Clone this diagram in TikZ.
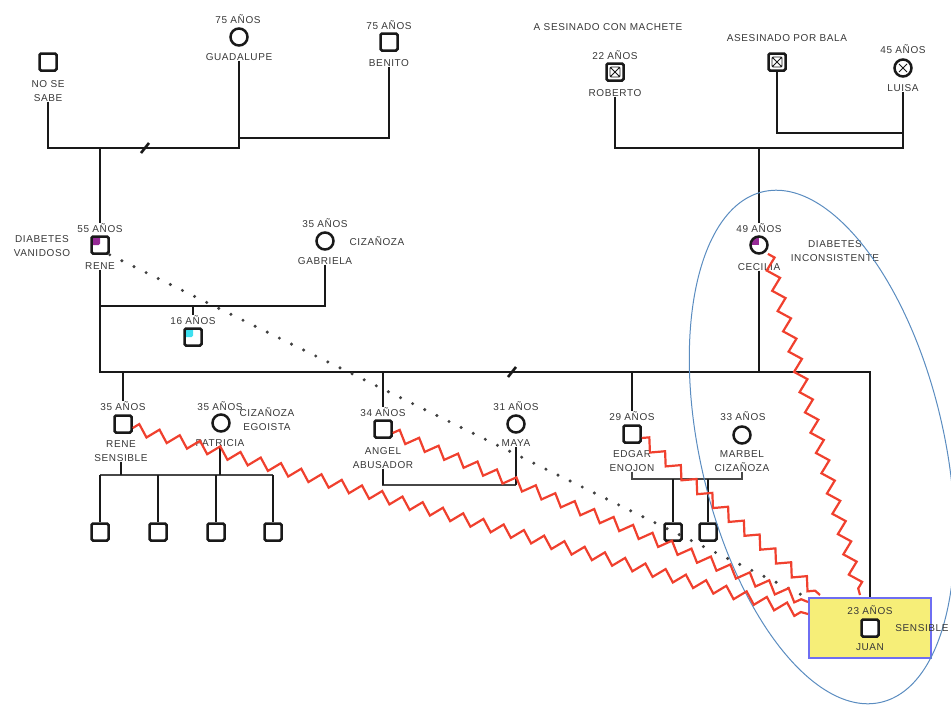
\documentclass[tikz,border=0pt]{standalone}
\usepackage{fontspec}
\setmainfont{Liberation Sans}[LetterSpace=6]
\usetikzlibrary{decorations.pathmorphing,calc}
\definecolor{txt}{HTML}{383838}
\definecolor{zig}{HTML}{F0402E}
\definecolor{purp}{HTML}{962A96}
\definecolor{cyn}{HTML}{3FE0F0}
\definecolor{eblue}{HTML}{5A8CC0}
\definecolor{jyel}{HTML}{F6EE78}
\definecolor{jblue}{HTML}{6E6EF2}
\begin{document}
\begin{tikzpicture}[x=1pt,y=-1pt,
  lbl/.style={font=\fontsize{10}{14}\selectfont, text=txt, inner sep=0pt, align=center},
  psq/.style={draw=black!90, line width=2.5pt, rectangle, rounded corners=1.5pt, minimum size=17pt, inner sep=0pt, fill=white},
  pci/.style={draw=black!90, line width=2.5pt, circle, minimum size=17pt, inner sep=0pt, fill=white},
  qfill/.style={path picture={\fill[#1] (path picture bounding box.north west) rectangle (path picture bounding box.center);}},
  xsq/.style={path picture={
     \draw[line width=0.8pt] ([shift={(3.5pt,-3.5pt)}]path picture bounding box.north west) rectangle ([shift={(-3.5pt,3.5pt)}]path picture bounding box.south east);
     \draw[line width=0.8pt] ([shift={(3.5pt,-3.5pt)}]path picture bounding box.north west) -- ([shift={(-3.5pt,3.5pt)}]path picture bounding box.south east);
     \draw[line width=0.8pt] ([shift={(-3.5pt,-3.5pt)}]path picture bounding box.north east) -- ([shift={(3.5pt,3.5pt)}]path picture bounding box.south west);}},
  xci/.style={path picture={
     \draw[line width=0.8pt] ([shift={(4.5pt,-4.5pt)}]path picture bounding box.north west) -- ([shift={(-4.5pt,4.5pt)}]path picture bounding box.south east);
     \draw[line width=0.8pt] ([shift={(-4.5pt,-4.5pt)}]path picture bounding box.north east) -- ([shift={(4.5pt,4.5pt)}]path picture bounding box.south west);}},
  rel/.style={line width=2.6pt, draw=black!90},
  thinrel/.style={line width=1.7pt, draw=black!72},
  conflict/.style={draw=zig, line width=2.2pt, line join=miter, decorate, decoration={zigzag, segment length=21pt, amplitude=5.5pt}},
  dotline/.style={draw=black!75, line width=3.4pt, line cap=round, dash pattern=on 0pt off 13.5pt},
]
\useasboundingbox (0,0) rectangle (951,707);

% ---------- generation 1 (left)
\node[psq] (nose) at (48,62) {};
\node[lbl] (nosel) at (48,91) {NO SE\\SABE};
\node[lbl] (guaa) at (238,19) {75 AÑOS};
\node[pci] (gua) at (239,37) {};
\node[lbl] (gual) at (239,57) {GUADALUPE};
\node[lbl] (bena) at (389,25) {75 AÑOS};
\node[psq] (ben) at (389,42) {};
\node[lbl] (benl) at (389,63) {BENITO};
\coordinate (j0) at (48,148);
\coordinate (j1) at (239,148);
\coordinate (jb) at (239,138);
\coordinate (jc) at (100,148);
\draw[rel] (nosel.south) -- (j0) -- (j1) -- (gual.south);
\draw[rel] (benl.south) |- (jb);
\draw[rel] (141,153) -- (149,143);

% ---------- generation 1 (right)
\node[lbl] (mach) at (608,27) {A SESINADO CON MACHETE};
\node[lbl] (roba) at (615,55) {22 AÑOS};
\node[psq,xsq] (rob) at (615,72) {};
\node[lbl] (robl) at (615,93) {ROBERTO};
\node[lbl] (asea) at (787,38) {ASESINADO POR BALA};
\node[psq,xsq] (ase) at (777,62) {};
\node[lbl] (luia) at (903,49) {45 AÑOS};
\node[pci,xci] (lui) at (903,68) {};
\node[lbl] (luil) at (903,88) {LUISA};
\coordinate (k1) at (903,148);
\coordinate (kb) at (903,133);
\coordinate (kc) at (759,148);
\draw[rel] (robl.south) |- (k1) -- (luil.south);
\draw[rel] (ase.south) |- (kb);

% ---------- generation 2
\node[lbl] (renea) at (100,228) {55 AÑOS};
\node[psq,qfill=purp] (rene) at (100,245) {};
\node[lbl] (renet) at (42,246) {DIABETES\\VANIDOSO};
\node[lbl] (renel) at (100,266) {RENE};
\draw[rel] (jc) -- (renea.north);

\node[lbl] (gaba) at (325,223) {35 AÑOS};
\node[pci] (gab) at (325,241) {};
\node[lbl] (gabt) at (377,241) {CIZAÑOZA};
\node[lbl] (gabl) at (325,261) {GABRIELA};
\coordinate (g0) at (100,306);
\coordinate (g1) at (193,306);
\draw[rel] (gabl.south) |- (g0);
\node[lbl] (sixa) at (193,320) {16 AÑOS};
\node[psq,qfill=cyn] (six) at (193,337) {};
\draw[rel] (g1) -- (sixa.north);

\node[lbl] (ceca) at (759,228) {49 AÑOS};
\node[pci,qfill=purp] (cec) at (759,245) {};
\node[lbl] (cecl) at (759,267) {CECILIA};
\node[lbl] (cect) at (835,251) {DIABETES\\INCONSISTENTE};
\draw[rel] (kc) -- (ceca.north);

% Juan box (needed for the union line)
\node[draw=jblue, fill=jyel, line width=2.2pt, minimum width=122pt, minimum height=60pt, inner sep=0pt] (juanbox) at (870,628) {};

\coordinate (u0) at (100,372);
\coordinate (u1) at (870,372);
\coordinate (uc) at (759,372);
\draw[rel] (renel.south) -- (u0) -- (u1) -- (juanbox.north);
\draw[rel] (cecl.south) -- (uc);
\draw[rel] (508,377) -- (516,367);

% ---------- generation 3
\node[lbl] (r2a) at (123,406) {35 AÑOS};
\node[psq] (r2) at (123,424) {};
\node[lbl] (r2l) at (121,451) {RENE\\SENSIBLE};
\node[lbl] (pata) at (220,406) {35 AÑOS};
\node[lbl] (patt) at (267,419) {CIZAÑOZA\\EGOISTA};
\node[pci] (pat) at (221,423) {};
\node[lbl] (patl) at (220,443) {PATRICIA};
\draw[rel] (123,372) -- (r2a.north);
\coordinate (p0) at (100,475);
\coordinate (p1) at (273,475);
\draw[thinrel] (p0) -- (p1);
\draw[rel] (r2l.south) -- (121,475);
\draw[rel] (patl.south) -- (220,475);
\foreach \i/\x in {1/100,2/158,3/216,4/273}{
  \node[psq] (ch\i) at (\x,532) {};
  \draw[rel] (\x,475) -- (ch\i.north);
}

\node[lbl] (anga) at (383,412) {34 AÑOS};
\node[psq] (ang) at (383,429) {};
\node[lbl] (angl) at (383,458) {ANGEL\\ABUSADOR};
\node[lbl] (maya) at (516,406) {31 AÑOS};
\node[pci] (may) at (516,424) {};
\node[lbl] (mayl) at (516,443) {MAYA};
\draw[rel] (383,372) -- (anga.north);
\coordinate (a1) at (516,485);
\draw[thinrel] (angl.south) |- (a1);
\draw[rel] (angl.south) -- (383,485);
\draw[rel] (mayl.south) -- (a1);

\node[lbl] (edga) at (632,416) {29 AÑOS};
\node[psq] (edg) at (632,434) {};
\node[lbl] (edgl) at (632,461) {EDGAR\\ENOJON};
\node[lbl] (mara) at (743,416) {33 AÑOS};
\node[pci] (mar) at (742,435) {};
\node[lbl] (marl) at (742,461) {MARBEL\\CIZAÑOZA};
\draw[rel] (632,372) -- (edga.north);
\coordinate (e0) at (632,479);
\coordinate (e1) at (742,479);
\draw[thinrel] (edgl.south) -- (e0) -- (e1) -- (marl.south);
\foreach \i/\x in {1/673,2/708}{
  \node[psq] (ec\i) at (\x,532) {};
  \draw[rel] (\x,479) -- (ec\i.north);
}

% ---------- ellipse
\draw[eblue, line width=1pt, rotate around={13:(822,447)}] (822,447) ellipse [x radius=122, y radius=262];

% ---------- Juan
\node[lbl] (juana) at (870,610) {23 AÑOS};
\node[psq] (juan) at (870,628) {};
\node[lbl] (juanl) at (870,647) {JUAN};
\node[lbl] (juant) at (922,628) {SENSIBLE};

% ---------- relations to Juan
\coordinate (zA) at (808,614);
\coordinate (zB) at (808,602);
\coordinate (zC) at (820,595);
\coordinate (zD) at (860,595);
\coordinate (zE) at (802,595);
\draw[dotline] (rene.south east) -- (zE);
\draw[conflict] (r2.east) ++(0,4) -- (zA);
\draw[conflict] (ang.east) ++(0,4) -- (zB);
\draw[conflict] (edg.east) ++(0,4) -- (zC);
\draw[conflict] (cec.south east) ++(2,2) -- (zD);
\end{tikzpicture}
\end{document}
